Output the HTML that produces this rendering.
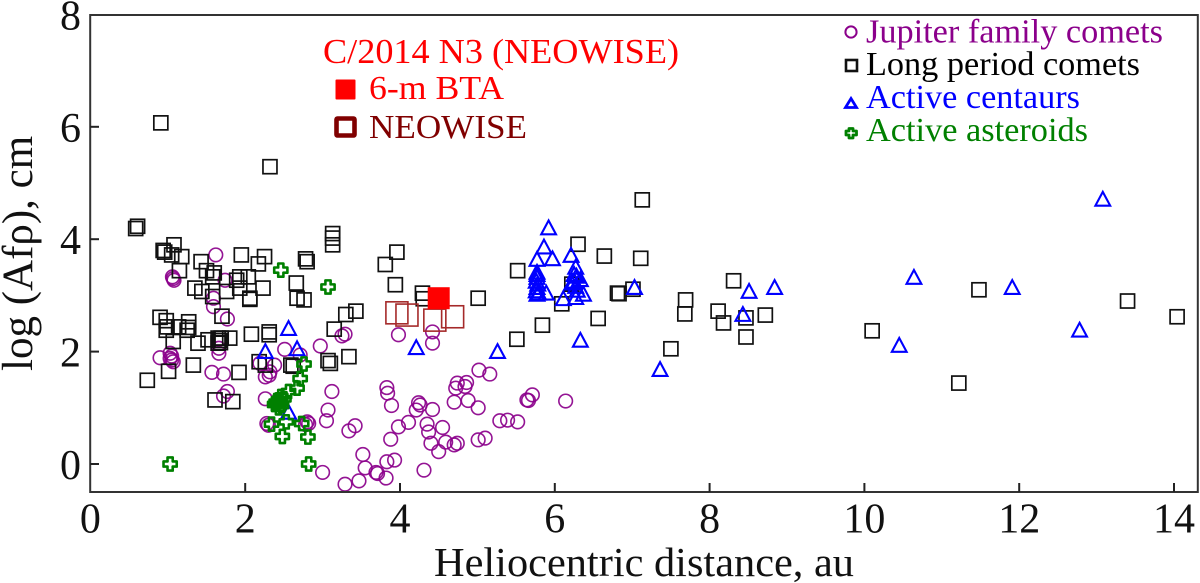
<!DOCTYPE html>
<html>
<head>
<meta charset="utf-8">
<title>Comet activity chart</title>
<style>
html,body{margin:0;padding:0;background:#fff;width:1200px;height:583px;overflow:hidden}
svg{display:block;font-family:"Liberation Serif",serif}
</style>
</head>
<body>
<svg id="chart" width="1200" height="583" viewBox="0 0 1200 583" xmlns="http://www.w3.org/2000/svg">
<g id="marks"></g>
<rect x="90.2" y="15" width="1107.6" height="477" fill="none" stroke="#333" stroke-width="2"/>
<g id="axes"></g>
<text x="434" y="576" font-size="41" fill="#111" textLength="420" lengthAdjust="spacingAndGlyphs">Heliocentric distance, au</text>
<text transform="translate(32,371) rotate(-90)" font-size="43" fill="#111" font-family="'Liberation Serif','DejaVu Serif',serif">log (Afρ), cm</text>
<g>
<text x="323" y="63" font-size="35" fill="#f00" textLength="356" lengthAdjust="spacingAndGlyphs">C/2014 N3 (NEOWISE)</text>
<rect x="335.5" y="79.5" width="20" height="20" rx="1" fill="#f00"/>
<text x="369" y="99" font-size="34" fill="#f00" textLength="135" lengthAdjust="spacingAndGlyphs">6-m BTA</text>
<rect x="336.5" y="118.5" width="18" height="17" rx="1" fill="none" stroke="#800000" stroke-width="4.6"/>
<text x="369" y="138" font-size="34" fill="#800000" textLength="158" lengthAdjust="spacingAndGlyphs">NEOWISE</text>
</g>
<g>
<circle cx="851" cy="32" r="5.6" fill="none" stroke="#8b008b" stroke-width="2"/>
<text x="866" y="42.5" font-size="34" fill="#8b008b" textLength="297" lengthAdjust="spacingAndGlyphs">Jupiter family comets</text>
<rect x="846" y="60" width="11" height="11" fill="none" stroke="#111" stroke-width="2.6"/>
<text x="866" y="75" font-size="34" fill="#000" textLength="274" lengthAdjust="spacingAndGlyphs">Long period comets</text>
<path d="M851 98.5L856.5 107.5L845.5 107.5Z" fill="none" stroke="#00f" stroke-width="2.8"/>
<text x="866" y="108" font-size="34" fill="#00f" textLength="214" lengthAdjust="spacingAndGlyphs">Active centaurs</text>
<path d="M849 128.5h4v2.5h3.5v4h-3.5v3h-4v-3h-3v-4h3z" fill="#fff" stroke="#008000" stroke-width="2.8" stroke-linejoin="round"/>
<text x="866" y="141" font-size="34" fill="#008000" textLength="222" lengthAdjust="spacingAndGlyphs">Active asteroids</text>
</g>
</svg>
<script>
const xTicks = [2, 4, 6, 8, 10, 12, 14];
const xTickLabels = ["2", "4", "6", "8", "10", "12", "14"];
const yTicks = [0, 2, 4, 6];
const yLabelValues = [0, 2, 4, 6, 8];
const xZeroLabel = "0";

const jfcX = [3.98,4.42,4.42,3.29,3.25,5.02,5.16,4.74,4.86,4.72,4.84,4.70,4.88,5.01,5.71,5.64,5.66,6.14,5.29,5.39,5.52,5.01,5.10,3.83,3.84,3.89,4.24,4.26,4.21,4.42,4.11,3.98,3.88,4.35,4.37,4.55,4.40,4.59,4.70,4.74,4.50,4.31,3.93,3.83,3.52,3.55,3.71,3.82,3.47,3.29,3.42,3.34,0.90,1.03,1.05,1.07,1.57,1.72,1.77,1.72,1.66,1.66,1.77,1.59,1.59,2.51,2.71,2.97,2.19,2.38,2.32,2.26,2.31,2.26,3.12,3.07,3.05,3.69,3.00,2.28,2.30,2.80,2.82,2.78,1.62,1.07,1.08,1.06,1.74,1.03,1.05];
const jfcY = [2.30,2.35,2.15,2.31,2.28,1.67,1.60,1.44,1.45,1.35,1.38,1.10,1.13,1.00,1.23,1.14,1.13,1.12,0.77,0.78,0.75,0.43,0.46,1.36,1.26,1.04,1.09,1.05,0.96,0.97,0.74,0.66,0.44,0.71,0.57,0.65,0.37,0.39,0.34,0.37,0.22,-0.11,0.07,0.04,0.17,-0.07,-0.17,-0.25,-0.30,-0.36,0.68,0.59,1.89,1.97,1.92,1.82,1.63,1.60,1.29,1.21,1.97,2.06,2.58,2.80,2.95,2.04,1.94,2.10,1.79,1.76,1.64,1.55,1.58,1.16,1.29,0.96,0.77,-0.15,-0.15,0.72,0.69,0.75,0.72,0.70,3.72,3.30,3.27,3.33,3.27,1.88,1.85];

const lpcX = [0.91,2.32,0.61,0.585,0.94,0.96,1.08,1.05,1.18,1.15,1.43,1.50,1.60,1.35,1.44,1.58,1.76,1.89,1.95,1.70,0.90,0.98,0.99,0.98,1.14,1.27,1.27,1.25,1.07,1.39,1.52,1.65,1.80,1.65,1.67,1.69,1.68,0.735,1.01,1.33,1.61,1.84,1.92,2.08,2.31,2.31,2.18,2.26,2.59,2.62,3.07,3.10,3.34,3.15,3.30,3.43,2.67,2.76,2.06,2.06,3.13,3.13,3.13,2.25,2.17,2.78,2.80,2.04,2.23,2.66,1.93,1.93,1.58,3.96,3.81,3.94,4.29,4.30,5.01,5.52,5.51,5.84,6.30,6.64,6.56,6.09,6.81,6.83,7.01,7.11,7.13,7.50,7.68,7.69,8.11,8.18,8.31,8.47,8.47,8.72,10.10,11.22,11.48,13.40,14.04,6.22];
const lpcY = [6.07,5.29,4.23,4.19,3.80,3.77,3.90,3.72,3.69,3.44,3.60,3.44,3.40,3.13,3.07,2.98,3.07,3.27,3.72,2.63,2.61,2.55,2.44,2.38,2.44,2.53,2.43,2.38,2.18,2.15,2.21,2.24,2.24,2.15,2.20,2.24,2.16,1.49,1.65,1.76,1.14,1.11,1.63,2.31,2.35,2.30,1.82,1.76,1.76,1.74,1.84,1.79,1.91,2.40,2.66,2.72,2.95,2.92,2.95,2.93,4.10,4.02,3.90,3.69,3.56,3.65,3.60,3.33,3.13,3.22,3.33,3.13,3.33,3.77,3.55,3.19,3.04,2.94,2.95,3.44,2.22,2.47,3.91,3.70,2.59,2.85,3.04,3.03,3.11,3.66,4.70,2.05,2.67,2.92,2.72,2.51,3.26,2.26,2.60,2.65,2.37,1.44,3.10,2.90,2.62,3.20];

const centaurX = [2.56,2.67,2.26,2.56,4.21,5.26,6.33,5.92,5.86,5.77,5.97,6.21,5.77,5.77,5.77,5.76,5.78,5.77,5.76,5.79,5.89,5.77,6.27,6.25,6.28,6.33,6.25,6.22,6.27,6.29,6.37,6.27,6.11,7.03,8.51,8.84,8.43,7.36,10.64,10.45,11.91,12.78,13.08];
const centaurY = [2.40,2.04,1.99,0.91,2.06,1.99,2.19,4.19,3.85,3.63,3.64,3.70,3.40,3.36,3.31,3.24,3.19,3.13,3.07,3.03,3.03,3.01,3.49,3.36,3.33,3.27,3.24,3.21,3.15,3.08,3.01,2.95,2.93,3.13,3.06,3.13,2.65,1.67,3.31,2.10,3.13,2.37,4.70];

const asteroidX = [1.03,2.82,2.48,2.81,2.34,2.53,2.73,2.43,2.40,2.46,2.38,2.47,2.43,2.50,2.45,2.41,2.56,2.67,2.71,2.76,2.46,3.07];
const asteroidY = [0.00,0.00,0.49,0.48,0.71,0.75,0.72,1.14,1.10,1.20,1.06,1.04,1.00,1.16,1.12,1.08,1.29,1.35,1.52,1.78,3.45,3.15];

const neowiseX = [3.96,4.09,4.45,4.68];
const neowiseY = [2.69,2.65,2.56,2.62];
const btaX = [4.50];
const btaY = [2.95];

const NS = "http://www.w3.org/2000/svg";
function xScale(v){ return 90.4 + 77.4 * v; }
function yScale(v){ return 464 - 56.2 * v; }
const marks = document.getElementById("marks");
const axes = document.getElementById("axes");

function make(tag, attrs, parent){
  const el = document.createElementNS(NS, tag);
  for (const k in attrs) el.setAttribute(k, attrs[k]);
  parent.appendChild(el);
  return el;
}

jfcX.forEach(function(v, i){
  const el = make("circle", {cx: xScale(v), cy: yScale(jfcY[i]), r: 6.8, fill: "none", stroke: "#8b008b", "stroke-width": 1.6, "stroke-opacity": 0.92}, marks);
  
  
});
lpcX.forEach(function(v, i){
  const el = make("rect", {x: xScale(v) - 7, y: yScale(lpcY[i]) - 7, width: 14, height: 14, fill: "none", stroke: "#111", "stroke-width": 1.7}, marks);
  
  
});
centaurX.forEach(function(v, i){
  const x = xScale(v), y = yScale(centaurY[i]);
  const el = make("path", {d: "M" + x + " " + (y - 8) + "L" + (x + 7.4) + " " + (y + 5.8) + "L" + (x - 7.4) + " " + (y + 5.8) + "Z", fill: "none", stroke: "#00f", "stroke-width": 2.1}, marks);
  
  
});
asteroidX.forEach(function(v, i){
  const x = xScale(v), y = yScale(asteroidY[i]);
  const el = make("path", {d: "M" + (x - 2.6) + " " + (y - 6.6) + "h5.2v4h4v5.2h-4v4h-5.2v-4h-4v-5.2h4z", fill: "none", stroke: "#008000", "stroke-width": 2.6, "stroke-linejoin": "round"}, marks);
  
  
});
neowiseX.forEach(function(v, i){
  const el = make("rect", {x: xScale(v) - 11, y: yScale(neowiseY[i]) - 11, width: 22, height: 22, fill: "none", stroke: "#a52a2a", "stroke-width": 1.6}, marks);
  
  
});
btaX.forEach(function(v, i){
  const el = make("rect", {x: xScale(v) - 11, y: yScale(btaY[i]) - 11, width: 22, height: 22, fill: "#f00"}, marks);
  
  
});

xTicks.forEach(function(v, i){
  const tick = make("line", {x1: xScale(v), x2: xScale(v), y1: 492, y2: 483, stroke: "#222", "stroke-width": 2}, axes);
  
  
  const lab = make("text", {x: xScale(v), y: 532.5, "text-anchor": "middle", "font-size": 42, fill: "#111"}, axes);
  
  
  lab.textContent = xTickLabels[i];
});
const zeroLabel = make("text", {x: xScale(0), y: 532.5, "text-anchor": "middle", "font-size": 42, fill: "#111"}, axes);


zeroLabel.textContent = xZeroLabel;

yTicks.forEach(function(v){
  const tick = make("line", {x1: 90, x2: 99, y1: yScale(v), y2: yScale(v), stroke: "#222", "stroke-width": 2}, axes);
  
  
});
yLabelValues.forEach(function(v){
  const lab = make("text", {x: 81, y: yScale(v) + 15, "text-anchor": "end", "font-size": 42, fill: "#111"}, axes);
  
  
  lab.textContent = String(v);
});
</script>
</body>
</html>
